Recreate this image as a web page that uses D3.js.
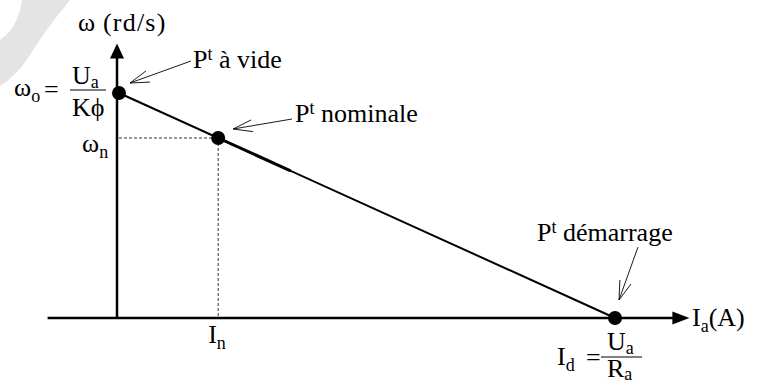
<!DOCTYPE html>
<html>
<head>
<meta charset="utf-8">
<script src="https://cdn.jsdelivr.net/npm/d3@7"></script>
<style>
  body { margin: 0; background: #fff; }
</style>
</head>
<body>
<div id="chart-area"></div>
<script>
// Operating points (abstract units): current and speed
const pointNames = ['Pt à vide', 'Pt nominale', 'Pt démarrage'];
const currents = [0, 1, 5];   // 0, I_n, I_d
const speeds = [5, 4, 0];     // w_o, w_n, 0

const width = 761;
const height = 390;
const serif = '"Liberation Serif"';

const svg = d3.select('#chart-area')
    .append('svg')
    .attr('width', width)
    .attr('height', height);

// Scales
const x = d3.scaleLinear().domain([0, 5]).range([119, 615]);
const y = d3.scaleLinear().domain([0, 5]).range([318, 93]);

// Watermark swoosh
svg.append('path')
    .attr('d', 'M22,0 L70,0 Q45,30 28,58 Q16,76 0,86 L0,40 Q18,28 22,0 Z')
    .attr('fill', '#e4e4e4');

// Dotted guides for nominal point
const g = svg.append('g');
g.append('line')
    .attr('x1', x(0)).attr('x2', x(currents[1]))
    .attr('y1', y(speeds[1])).attr('y2', y(speeds[1]))
    .attr('stroke', '#000').attr('stroke-width', 0.8)
    .attr('stroke-dasharray', '3,2');
g.append('line')
    .attr('x1', x(currents[1])).attr('x2', x(currents[1]))
    .attr('y1', y(speeds[1])).attr('y2', y(0))
    .attr('stroke', '#000').attr('stroke-width', 0.8)
    .attr('stroke-dasharray', '3,2');

// Axes
g.append('line')
    .attr('x1', x(-0.72)).attr('x2', x(5.6))
    .attr('y1', y(0)).attr('y2', y(0))
    .attr('stroke', '#000').attr('stroke-width', 2.5);
g.append('line')
    .attr('x1', x(-0.02)).attr('x2', x(-0.02))
    .attr('y1', y(0)).attr('y2', y(5.8))
    .attr('stroke', '#000').attr('stroke-width', 2.5);

// Axis arrowheads
const xt = x(5.75), yt = y(0);
g.append('path')
    .attr('d', `M${xt},${yt} L${xt - 17},${yt - 6.5} L${xt - 17},${yt + 6.5} Z`)
    .attr('fill', '#000');
const ax = x(-0.02), at = y(6.1);
g.append('path')
    .attr('d', `M${ax},${at} L${ax - 7},${at + 15} L${ax + 7},${at + 15} Z`)
    .attr('fill', '#000');

// Characteristic line
const data = currents.map((c, i) => ({ c: c, w: speeds[i], name: pointNames[i] }));
const line = d3.line().x(d => x(d.c)).y(d => y(d.w));
g.append('path')
    .datum([data[0], data[2]])
    .attr('d', line)
    .attr('fill', 'none')
    .attr('stroke', '#000')
    .attr('stroke-width', 2);

// slightly heavier segment just after the nominal point
g.append('path')
    .datum([data[1], { c: 1.73, w: speeds[0] - 1.73 }])
    .attr('d', line)
    .attr('fill', 'none')
    .attr('stroke', '#000')
    .attr('stroke-width', 3);

// Points
g.selectAll('circle')
    .data(data)
    .enter()
    .append('circle')
    .attr('cx', d => x(d.c))
    .attr('cy', d => y(d.w))
    .attr('r', 7)
    .attr('fill', '#000');

// Annotations: open-arrow leaders
function leader(x1, y1, x2, y2) {
    g.append('line')
        .attr('x1', x1).attr('y1', y1).attr('x2', x2).attr('y2', y2)
        .attr('stroke', '#000').attr('stroke-width', 0.9);
    const ang = Math.atan2(y1 - y2, x1 - x2);
    const len = 20, spread = 0.3;
    [ang - spread, ang + spread].forEach(a => {
        g.append('line')
            .attr('x1', x2).attr('y1', y2)
            .attr('x2', x2 + len * Math.cos(a)).attr('y2', y2 + len * Math.sin(a))
            .attr('stroke', '#000').attr('stroke-width', 0.9);
    });
}

const fs = 26, sub = 18;

function txt(tx, ty, size) {
    return svg.append('text').attr('x', tx).attr('y', ty)
        .attr('font-size', size || fs)
        .style('font-family', serif)
        .attr('fill', '#000');
}

function pLabel(tx, ty, rest) {
    const t = txt(tx, ty);
    t.append('tspan').text('P');
    t.append('tspan').attr('font-size', sub).attr('dy', -8).text('t');
    t.append('tspan').attr('dy', 8).text(' ' + rest);
}

leader(191, 61, x(0) + 11, y(speeds[0]) - 10);
pLabel(193, 68, 'à vide');

leader(292, 119, x(currents[1]) + 15, y(speeds[1]) - 9);
pLabel(295, 122, 'nominale');

leader(638, 247, x(currents[2]) + 4, y(0) - 18);
pLabel(537, 241, 'démarrage');

// Sub-scripted text helper
function subText(tx, ty, main, s, shift) {
    const t = txt(tx, ty);
    t.append('tspan').text(main);
    t.append('tspan').attr('font-size', sub).attr('dy', shift || 6).text(s);
    return t;
}

// Y axis title
txt(78, 31).text('ω');
txt(103, 31).attr('letter-spacing', 1.2).text('(rd/s)');

// X axis title
const xa = txt(692, 326);
xa.append('tspan').text('I');
xa.append('tspan').attr('font-size', sub).attr('dy', 6).text('a');
xa.append('tspan').attr('dy', -6).text('(A)');

// w_o = U_a / K phi
subText(14, 96, 'ω', 'o');
txt(44, 98).text('=');
g.append('line').attr('x1', 70).attr('x2', 106).attr('y1', 90).attr('y2', 90)
    .attr('stroke', '#000').attr('stroke-width', 1);
subText(72, 84, 'U', 'a', 4);
txt(72, 116).text('Kϕ');

// w_n
subText(82, 152, 'ω', 'n');

// I_n
subText(x(currents[1]) - 10, 343, 'I', 'n');

// I_d = U_a / R_a
subText(557, 365, 'I', 'd');
txt(586, 366).text('=');
g.append('line').attr('x1', 601).attr('x2', 642).attr('y1', 357).attr('y2', 357)
    .attr('stroke', '#000').attr('stroke-width', 1);
subText(607, 350, 'U', 'a', 4);
subText(607, 377, 'R', 'a', 3);
</script>
</body>
</html>
